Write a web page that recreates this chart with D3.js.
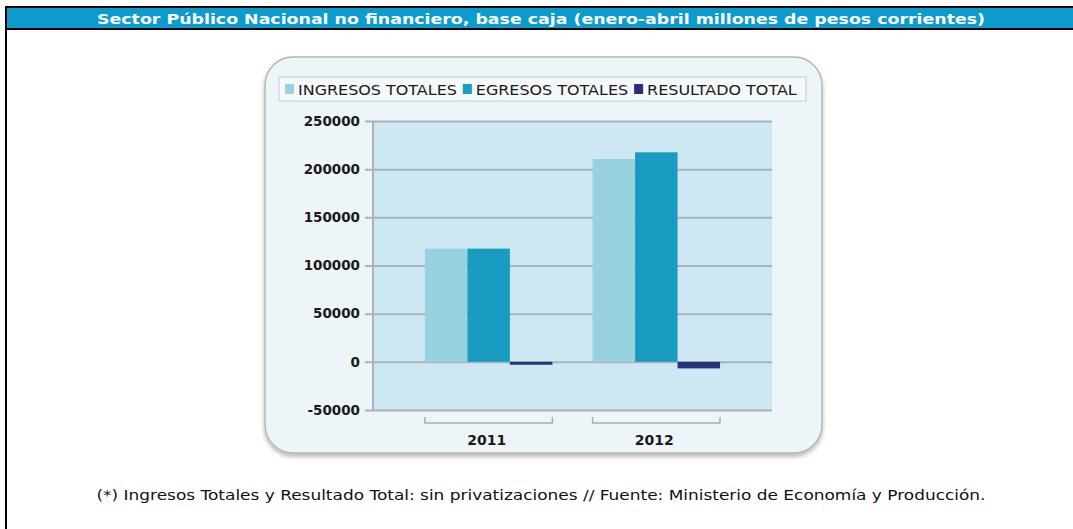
<!DOCTYPE html>
<html><head><meta charset="utf-8">
<script src="https://cdn.jsdelivr.net/npm/d3@7"></script>
<style>
html,body{margin:0;padding:0;background:#fff;}
svg{display:block;}
</style></head>
<body>
<svg id="c" width="1073" height="529"></svg>
<script>
const title = "Sector Público Nacional no financiero, base caja (enero-abril millones de pesos corrientes)";
const footnote = "(*) Ingresos Totales y Resultado Total: sin privatizaciones // Fuente: Ministerio de Economía y Producción.";
const categories = ["2011", "2012"];
const seriesNames = ["INGRESOS TOTALES", "EGRESOS TOTALES", "RESULTADO TOTAL"];
const ingresos = [117500, 210500];
const egresos = [117500, 217500];
const resultado = [-3000, -6800];
const yTicks = [-50000, 0, 50000, 100000, 150000, 200000, 250000];
const colors = ["#98d2df", "#1a9cc2", "#29307a"];

const seriesValues = [ingresos, egresos, resultado];
const svg = d3.select("#c");

function stretch(t, w) {
  t.attr("textLength", w).attr("lengthAdjust", "spacingAndGlyphs");
}

// frame
svg.append("rect").attr("x", 7).attr("y", 8).attr("width", 1066).attr("height", 20).attr("fill", "#0b9bcc");
svg.append("line").attr("x1", 5).attr("x2", 1073).attr("y1", 7).attr("y2", 7).attr("stroke", "#000").attr("stroke-width", 2);
svg.append("line").attr("x1", 5).attr("x2", 1073).attr("y1", 29).attr("y2", 29).attr("stroke", "#000").attr("stroke-width", 2);
svg.append("line").attr("x1", 6).attr("x2", 6).attr("y1", 6).attr("y2", 529).attr("stroke", "#000").attr("stroke-width", 2);
const tt = svg.append("text").attr("x", 541).attr("y", 23.5).attr("text-anchor", "middle")
  .attr("font-family", "DejaVu Sans").attr("font-weight", "bold").attr("font-size", 14.5)
  .attr("fill", "#fff").text(title);
stretch(tt, 888);

// panel
const defs = svg.append("defs");
const f = defs.append("filter").attr("id", "sh").attr("x", "-5%").attr("y", "-5%").attr("width", "110%").attr("height", "115%");
f.append("feDropShadow").attr("dx", 0).attr("dy", 3).attr("stdDeviation", 2).attr("flood-color", "#000").attr("flood-opacity", 0.28);
svg.append("rect").attr("x", 265).attr("y", 57).attr("width", 557).attr("height", 396).attr("rx", 28)
  .attr("fill", "#eef5f8").attr("stroke", "#aeb7bb").attr("stroke-width", 1.5).attr("filter", "url(#sh)");

// legend
const lg = svg.append("g");
lg.append("rect").attr("x", 279).attr("y", 77).attr("width", 527).attr("height", 24)
  .attr("fill", "#f5f9fb").attr("stroke", "#c3ccd0");
let lx = 285;
seriesNames.forEach((n, i) => {
  lg.append("rect").attr("x", lx).attr("y", 84).attr("width", 9).attr("height", 10).attr("fill", colors[i]);
  const t = lg.append("text").attr("x", lx + 13).attr("y", 94.5)
    .attr("font-family", "DejaVu Sans").attr("font-size", 14.5).attr("fill", "#1a1a1a").text(n);
  const w = t.node().getComputedTextLength() * 1.1;
  stretch(t, w);
  lx = lx + 13 + w + 6;
});

// plot
const x0 = 373, x1 = 772, yTop = 121, yBot = 410;
const y = d3.scaleLinear().domain([-50000, 250000]).range([yBot, yTop]);
const x = d3.scaleBand().domain(categories).range([x0, x1]).paddingInner(0.24).paddingOuter(0.31);
const xs = d3.scaleBand().domain(seriesNames).range([0, x.bandwidth()]).padding(0);

svg.append("rect").attr("x", x0).attr("y", yTop).attr("width", x1 - x0).attr("height", yBot - yTop).attr("fill", "#cde8f2");

const ga = svg.append("g").attr("transform", `translate(${x1},0)`);
ga.call(d3.axisLeft(y).tickValues(yTicks).tickSize(x1 - x0 + 8).tickFormat(d => String(d)).tickPadding(5));
ga.select(".domain").remove();
ga.selectAll(".tick line").attr("stroke", "#aab3b7").attr("stroke-width", 2);
ga.selectAll(".tick text").attr("font-family", "DejaVu Sans").attr("font-weight", "bold")
  .attr("font-size", 13.5).attr("fill", "#1a1a1a");
svg.append("line").attr("x1", x0).attr("x2", x0).attr("y1", yTop).attr("y2", yBot).attr("stroke", "#aab3b7").attr("stroke-width", 2);

// bars
const bars = svg.append("g");
categories.forEach((c, ci) => {
  seriesNames.forEach((s, si) => {
    const v = seriesValues[si][ci];
    bars.append("rect")
      .attr("x", x(c) + xs(s)).attr("width", xs.bandwidth())
      .attr("y", y(Math.max(0, v))).attr("height", Math.abs(y(v) - y(0)))
      .attr("fill", colors[si]);
  });
});

// category brackets + labels
categories.forEach(c => {
  const a = x(c), b = x(c) + x.bandwidth();
  svg.append("path").attr("d", `M${a},417V423H${b}V417`).attr("fill", "none").attr("stroke", "#a6aeb2").attr("stroke-width", 1.5);
  svg.append("text").attr("x", (a + b) / 2 - 2).attr("y", 445).attr("text-anchor", "middle")
    .attr("font-family", "DejaVu Sans").attr("font-weight", "bold").attr("font-size", 14).attr("fill", "#1a1a1a").text(c);
});

// footnote
const fn = svg.append("text").attr("x", 541).attr("y", 500).attr("text-anchor", "middle")
  .attr("font-family", "DejaVu Sans").attr("font-size", 14).attr("fill", "#111").text(footnote);
stretch(fn, 889);
</script>
</body></html>
